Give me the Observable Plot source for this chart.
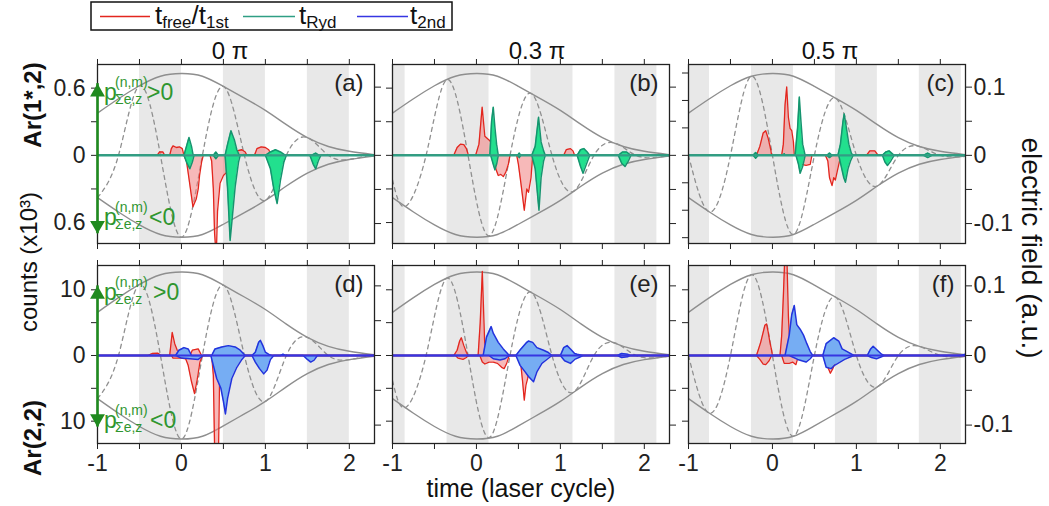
<!DOCTYPE html>
<html><head><meta charset="utf-8">
<script src="https://cdn.jsdelivr.net/npm/d3@7"></script>
<script src="https://cdn.jsdelivr.net/npm/@observablehq/plot@0.6"></script>
<style>
body{margin:0;background:#fff;font-family:"Liberation Sans",Arial,sans-serif;}
#wrap{position:relative;width:1049px;height:506px;overflow:hidden;background:#fff;}
.pl{position:absolute;}
#ov{position:absolute;left:0;top:0;pointer-events:none;}
</style></head><body><div id="wrap"></div>
<script>
// ---------------- data ----------------
const phaseTitles = ["0 \u03c0", "0.3 \u03c0", "0.5 \u03c0"];
const panelTags = ["(a)", "(b)", "(c)", "(d)", "(e)", "(f)"];
const xTicks = [-1, -0.5, 0, 0.5, 1, 1.5, 2];

// pulse envelope (electric field, a.u.)
const envT = [-1, -0.75, -0.5, -0.25, 0, 0.25, 0.5, 0.75, 1, 1.25, 1.5, 1.75, 2, 2.3];
const envE = [0.062, 0.083, 0.102, 0.116, 0.120, 0.116, 0.101, 0.084, 0.066, 0.045, 0.026, 0.013, 0.006, 0.001];

// electric field (dashed), read at extrema / zero crossings
const fieldA = [[-1,-0.062],[-0.75,0],[-0.5,0.102],[-0.25,0],[0,-0.120],[0.25,0],[0.5,0.101],[0.75,0],[1,-0.066],[1.25,0],[1.5,0.026],[1.75,0],[2,-0.006],[2.25,0],[2.3,0.0003]];
const fieldB = [[-1,-0.036],[-0.85,-0.075],[-0.6,0],[-0.35,0.111],[-0.1,0],[0.15,-0.118],[0.4,0],[0.65,0.091],[0.9,0],[1.15,-0.053],[1.4,0],[1.65,0.018],[1.9,0],[2.15,-0.003],[2.3,-0.0006]];
const fieldC = [[-1,0],[-0.75,-0.083],[-0.5,0],[-0.25,0.116],[0,0],[0.25,-0.116],[0.5,0],[0.75,0.084],[1,0],[1.25,-0.045],[1.5,0],[1.75,0.013],[2,0],[2.25,-0.002],[2.3,-0.001]];

// shaded half cycles
const bandsA = [[-0.5,0],[0.5,1],[1.5,2]];
const bandsB = [[-1.35,-0.85],[-0.35,0.15],[0.65,1.15],[1.65,2.15]];
const bandsC = [[-1.25,-0.75],[-0.25,0.25],[0.75,1.25],[1.75,2.25]];

// Ar(1*,2) counts (x10^3): t_free/t_1st (red) and t_Ryd (green)
const redUpA = [[-1,0],[-0.29,0],[-0.26,0.03],[-0.22,0.03],[-0.2,0],[-0.14,0],[-0.12,0.06],[-0.1,0.085],[-0.06,0.07],[-0.02,0.075],[0.01,0.06],[0.03,0],[0.62,0],[0.66,0.04],[0.72,0.05],[0.76,0.03],[0.78,0],[0.87,0],[0.9,0.06],[0.95,0.075],[1.0,0.07],[1.04,0.05],[1.07,0],[2.3,0]];
const redDnA = [[-1,0],[0.03,0],[0.06,-0.05],[0.096,-0.24],[0.137,-0.46],[0.176,-0.39],[0.2,-0.3],[0.216,-0.18],[0.24,-0.06],[0.26,0],[0.34,0],[0.36,-0.05],[0.38,-0.3],[0.395,-0.7],[0.415,-0.9],[0.43,-0.5],[0.46,-0.25],[0.5,-0.18],[0.54,-0.15],[0.57,-0.08],[0.6,0],[2.3,0]];
const grnUpA = [[-1,0],[0.03,0],[0.06,0.08],[0.09,0.16],[0.12,0.08],[0.14,0],[0.38,0],[0.41,0.03],[0.44,0],[0.52,0],[0.55,0.1],[0.59,0.22],[0.63,0.14],[0.66,0.05],[0.69,0],[1.0,0],[1.06,0.03],[1.12,0.05],[1.18,0.03],[1.24,0],[1.55,0],[1.6,0.02],[1.64,0],[2.3,0]];
const grnDnA = [[-1,0],[0.03,0],[0.06,-0.06],[0.1,-0.12],[0.13,-0.06],[0.15,0],[0.38,0],[0.41,-0.03],[0.44,0],[0.52,0],[0.55,-0.3],[0.58,-0.76],[0.61,-0.52],[0.64,-0.28],[0.68,-0.06],[0.7,0],[1.0,0],[1.06,-0.12],[1.1,-0.3],[1.14,-0.43],[1.18,-0.22],[1.22,-0.06],[1.25,0],[1.53,0],[1.57,-0.08],[1.6,-0.12],[1.63,-0.05],[1.66,0],[2.3,0]];

const redUpB = [[-1,0],[-0.27,0],[-0.23,0.07],[-0.19,0.1],[-0.15,0.095],[-0.12,0.06],[-0.095,0],[-0.01,0],[0.03,0.1],[0.068,0.43],[0.1,0.17],[0.13,0.15],[0.16,0.13],[0.19,0.1],[0.21,0],[1.04,0],[1.07,0.05],[1.12,0.06],[1.15,0.04],[1.17,0],[2.3,0]];
const redDnB = [[-1,0],[0.2,0],[0.23,-0.12],[0.26,-0.18],[0.29,-0.17],[0.32,-0.19],[0.35,-0.15],[0.38,-0.08],[0.4,0],[0.48,0],[0.5,-0.08],[0.53,-0.25],[0.57,-0.49],[0.6,-0.3],[0.62,-0.33],[0.65,-0.2],[0.67,0],[2.3,0]];
const grnUpB = [[-1,0],[0.16,0],[0.18,0.3],[0.2,0.43],[0.22,0.25],[0.24,0.1],[0.26,0],[0.49,0],[0.51,0.02],[0.53,0],[0.66,0],[0.7,0.08],[0.74,0.34],[0.77,0.12],[0.8,0.04],[0.82,0],[1.2,0],[1.24,0.05],[1.28,0.06],[1.32,0.03],[1.35,0],[1.69,0],[1.74,0.03],[1.79,0.03],[1.84,0],[2.3,0]];
const grnDnB = [[-1,0],[0.17,0],[0.2,-0.08],[0.22,-0.13],[0.24,-0.08],[0.26,0],[0.49,0],[0.51,-0.02],[0.53,0],[0.66,0],[0.7,-0.12],[0.745,-0.49],[0.77,-0.2],[0.8,-0.05],[0.82,0],[1.2,0],[1.24,-0.1],[1.27,-0.16],[1.31,-0.08],[1.35,0],[1.69,0],[1.73,-0.07],[1.77,-0.1],[1.81,-0.05],[1.84,0],[2.3,0]];

const redUpC = [[-1,0],[-0.19,0],[-0.15,0.08],[-0.11,0.2],[-0.08,0.22],[-0.05,0.15],[-0.02,0.05],[-0.01,0],[0.11,0],[0.13,0.1],[0.15,0.45],[0.17,0.61],[0.19,0.34],[0.21,0.24],[0.23,0.22],[0.25,0.12],[0.26,0],[1.12,0],[1.16,0.04],[1.22,0.04],[1.26,0],[2.3,0]];
const redDnC = [[-1,0],[0.32,0],[0.35,-0.08],[0.4,-0.09],[0.45,-0.08],[0.47,0],[0.63,0],[0.66,-0.05],[0.68,-0.2],[0.71,-0.27],[0.73,-0.2],[0.75,-0.22],[0.77,-0.15],[0.8,-0.05],[0.82,0],[2.3,0]];
const grnUpC = [[-1,0],[-0.23,0],[-0.2,0.025],[-0.17,0],[0.13,0],[0.14,0.015],[0.15,0],[0.27,0],[0.3,0.25],[0.32,0.52],[0.34,0.3],[0.36,0.1],[0.39,0],[0.65,0],[0.68,0.02],[0.71,0],[0.78,0],[0.81,0.1],[0.84,0.3],[0.855,0.37],[0.88,0.25],[0.91,0.1],[0.94,0.02],[0.96,0],[1.31,0],[1.35,0.03],[1.39,0.04],[1.45,0],[1.8,0],[1.85,0.02],[1.9,0],[2.3,0]];
const grnDnC = [[-1,0],[-0.23,0],[-0.2,-0.025],[-0.17,0],[0.28,0],[0.31,-0.08],[0.33,-0.16],[0.36,-0.1],[0.39,0],[0.65,0],[0.68,-0.02],[0.71,0],[0.79,0],[0.82,-0.1],[0.85,-0.2],[0.87,-0.24],[0.9,-0.12],[0.93,-0.05],[0.96,0],[1.31,0],[1.34,-0.06],[1.37,-0.09],[1.41,-0.05],[1.45,0],[1.8,0],[1.85,-0.02],[1.9,0],[2.3,0]];

// Ar(2,2) counts (x10^3): t_free/t_1st (red) and t_2nd (blue)
const redUpD = [[-1,0],[-0.4,0],[-0.35,0.3],[-0.28,0.35],[-0.24,0],[-0.14,0],[-0.11,3.5],[-0.08,1.8],[-0.05,0.8],[-0.03,0.3],[-0.01,0],[0.1,0],[0.13,0.8],[0.2,1.0],[0.24,0],[0.4,0],[0.44,0.8],[0.5,1.2],[0.55,1.0],[0.58,0],[2.3,0]];
const redDnD = [[-1,0],[-0.12,0],[-0.1,-0.4],[0.0,-0.4],[0.05,-0.5],[0.08,-1.5],[0.12,-4.0],[0.156,-5.8],[0.19,-3.5],[0.22,-1.0],[0.25,0],[0.36,0],[0.38,-3],[0.395,-14],[0.41,-16],[0.44,-16],[0.455,-3],[0.47,0],[2.3,0]];
const bluUpD = [[-1,0],[-0.07,0],[-0.03,0.8],[0.03,1.2],[0.08,1.0],[0.12,0],[0.36,0],[0.4,1.0],[0.48,1.3],[0.56,1.5],[0.64,1.3],[0.7,0.8],[0.76,0],[0.84,0],[0.88,0.5],[0.92,2.0],[0.94,2.3],[0.97,1.5],[1.0,0.5],[1.05,0.1],[1.08,0],[1.18,0],[1.21,0.2],[1.24,0],[2.3,0]];
const bluDnD = [[-1,0],[-0.07,0],[0.0,-0.4],[0.1,-0.5],[0.2,-0.6],[0.26,0],[0.35,0],[0.38,-1.5],[0.42,-3.5],[0.47,-5],[0.5,-7],[0.524,-8.9],[0.55,-6.5],[0.6,-3.5],[0.66,-1.8],[0.72,-0.6],[0.76,0],[0.84,0],[0.88,-1.0],[0.93,-2.0],[0.98,-2.8],[1.02,-2.2],[1.06,-0.6],[1.1,0],[1.45,0],[1.5,-0.6],[1.54,-1.0],[1.58,-0.7],[1.62,0],[2.3,0]];

const redUpE = [[-1,0],[-0.27,0],[-0.23,0.8],[-0.2,2.2],[-0.18,2.7],[-0.15,1.5],[-0.12,0.5],[-0.1,0],[0.02,0],[0.045,5],[0.07,12.8],[0.09,5],[0.1,1.2],[0.12,0.5],[0.15,0],[2.3,0]];
const redDnE = [[-1,0],[-0.25,0],[-0.22,-0.4],[-0.16,-0.6],[-0.12,-0.3],[-0.1,0],[0.04,0],[0.07,-1.0],[0.1,-1.3],[0.15,-1.0],[0.2,-1.0],[0.25,-1.2],[0.3,-1.8],[0.33,-2.0],[0.36,-1.2],[0.39,0],[0.5,0],[0.53,-1.5],[0.55,-4],[0.57,-6.8],[0.59,-4.5],[0.61,-3.5],[0.63,-2],[0.65,0],[2.3,0]];
const bluUpE = [[-1,0],[0.08,0],[0.12,2.8],[0.175,4.4],[0.2,3.4],[0.26,2.0],[0.32,1.0],[0.37,0.3],[0.39,0],[0.47,0],[0.53,1.0],[0.6,2.0],[0.62,2.2],[0.67,2.0],[0.72,1.2],[0.8,0.8],[0.85,0.5],[0.9,0],[1.0,0],[1.04,1.2],[1.08,1.5],[1.12,1.0],[1.17,0.3],[1.2,0.2],[1.27,0],[1.68,0],[1.73,0.3],[1.8,0.2],[1.83,0],[2.3,0]];
const bluDnE = [[-1,0],[0.15,0],[0.2,-0.5],[0.28,-0.7],[0.34,-0.5],[0.39,0],[0.47,0],[0.52,-1.5],[0.58,-2.5],[0.62,-3.2],[0.68,-4.0],[0.72,-2.5],[0.78,-1.2],[0.85,-0.5],[0.9,0],[1.0,0],[1.05,-0.8],[1.12,-1.2],[1.17,-0.6],[1.22,-0.3],[1.27,0],[1.68,0],[1.73,-0.3],[1.8,-0.2],[1.83,0],[2.3,0]];

const redUpF = [[-1,0],[-0.19,0],[-0.14,2.0],[-0.09,4.6],[-0.07,4.8],[-0.05,3.5],[-0.03,2.0],[-0.01,0.8],[0.0,0],[0.09,0],[0.11,3],[0.13,9],[0.15,16],[0.17,16],[0.19,6],[0.21,0.5],[0.22,0],[2.3,0]];
const redDnF = [[-1,0],[-0.19,0],[-0.15,-0.6],[-0.11,-1.3],[-0.08,-1.4],[-0.04,-0.8],[-0.01,0],[0.11,0],[0.14,-1.2],[0.2,-1.2],[0.24,-1.0],[0.28,-1.4],[0.31,0],[0.62,0],[0.65,-1.5],[0.69,-2.7],[0.72,-2.0],[0.75,-1.0],[0.77,0],[2.3,0]];
const bluUpF = [[-1,0],[0.15,0],[0.2,3.1],[0.23,6.2],[0.26,7.6],[0.29,4.7],[0.33,4.0],[0.37,3.1],[0.41,1.8],[0.45,0.6],[0.48,0],[0.6,0],[0.64,1.8],[0.73,2.7],[0.79,2.2],[0.83,1.0],[0.89,0.6],[0.97,0],[1.13,0],[1.17,1.0],[1.2,1.4],[1.25,0.8],[1.3,0.2],[1.33,0],[2.25,0],[2.3,0.2]];
const bluDnF = [[-1,0],[0.2,0],[0.3,-0.6],[0.4,-1.0],[0.45,-0.5],[0.48,0],[0.6,0],[0.64,-1.8],[0.7,-2.0],[0.74,-1.5],[0.78,-1.2],[0.86,-0.6],[0.97,0],[1.13,0],[1.18,-0.3],[1.24,-0.5],[1.3,-0.2],[1.33,0],[2.3,0]];

// axis ticks
const countTicksTop = [-0.6, -0.3, 0, 0.3, 0.6];
const countTicksTopC = [-0.735, -0.49, -0.245, 0, 0.245, 0.49, 0.735];
const countTicksBot = [-10, -5, 0, 5, 10];
const fieldTicks = [-0.1, -0.05, 0, 0.05, 0.1];
const arrowTips = [[0.64, -0.70], [10.6, -10.9]];

// ---------------- layout / style ----------------
const FONT = '"Liberation Sans", Arial, Helvetica, sans-serif';
const frameLeft = [97, 392, 688], frameW = 277;
const frameTop = [64, 265], frameH = [179, 178];
const M = {l: 62, r: 62, t: 16, b: 40};
const RED = "#e3261e", RED_FILL = "#f07f7f", GREEN_TXT = "#2f962f", ARROW = "#1f8a1f";
const rowCfg = [
  {domain: [-0.787, 0.811], k: 6.09, zero: "#2f9e84", sFill: "#22e08e", sStroke: "#16946f"},
  {domain: [-13.4, 13.7], k: 106, zero: "#3636e2", sFill: "#76adf3", sStroke: "#2233dd"}
];
const envRows = envT.map((t, i) => ({t, e: envE[i]}));
const panels = [
  {row:0, col:0, bands:bandsA, field:fieldA, rU:redUpA, rD:redDnA, sU:grnUpA, sD:grnDnA, lt:countTicksTop},
  {row:0, col:1, bands:bandsB, field:fieldB, rU:redUpB, rD:redDnB, sU:grnUpB, sD:grnDnB, lt:countTicksTop},
  {row:0, col:2, bands:bandsC, field:fieldC, rU:redUpC, rD:redDnC, sU:grnUpC, sD:grnDnC, lt:countTicksTopC},
  {row:1, col:0, bands:bandsA, field:fieldA, rU:redUpD, rD:redDnD, sU:bluUpD, sD:bluDnD, lt:countTicksBot},
  {row:1, col:1, bands:bandsB, field:fieldB, rU:redUpE, rD:redDnE, sU:bluUpE, sD:bluDnE, lt:countTicksBot},
  {row:1, col:2, bands:bandsC, field:fieldC, rU:redUpF, rD:redDnF, sU:bluUpF, sD:bluDnF, lt:countTicksBot}
];
const fmtNum = v => (v < 0 ? "-" : "") + String(Math.abs(+v.toFixed(3)));
const wrap = document.getElementById("wrap");

panels.forEach((p, idx) => {
  const rc = rowCfg[p.row];
  const [y0, y1] = rc.domain;
  const X = d => d[0], Y = d => d[1];
  const marks = [
    Plot.rect(p.bands, {x1: X, x2: Y, y1: y0, y2: y1, fill: "#e8e8e8", clip: true}),
    Plot.line(envRows, {x: "t", y: d => d.e * rc.k, curve: "natural", stroke: "#8e8e8e", strokeWidth: 1.4, clip: true}),
    Plot.line(envRows, {x: "t", y: d => -d.e * rc.k, curve: "natural", stroke: "#8e8e8e", strokeWidth: 1.4, clip: true}),
    Plot.line(p.field, {x: X, y: d => d[1] * rc.k, curve: "natural", stroke: "#909090", strokeWidth: 1.3, strokeDasharray: "4,4", clip: true}),
    Plot.areaY(p.rU, {x: X, y1: 0, y2: Y, fill: RED_FILL, fillOpacity: 0.55, clip: true}),
    Plot.areaY(p.rD, {x: X, y1: 0, y2: Y, fill: RED_FILL, fillOpacity: 0.55, clip: true}),
    Plot.line(p.rU, {x: X, y: Y, stroke: RED, strokeWidth: 1.3, clip: true}),
    Plot.line(p.rD, {x: X, y: Y, stroke: RED, strokeWidth: 1.3, clip: true}),
    Plot.areaY(p.sU, {x: X, y1: 0, y2: Y, fill: rc.sFill, clip: true}),
    Plot.areaY(p.sD, {x: X, y1: 0, y2: Y, fill: rc.sFill, clip: true}),
    Plot.line(p.sU, {x: X, y: Y, stroke: rc.sStroke, strokeWidth: 1.5, clip: true}),
    Plot.line(p.sD, {x: X, y: Y, stroke: rc.sStroke, strokeWidth: 1.5, clip: true}),
    Plot.ruleY([0], {stroke: rc.zero, strokeWidth: 2.2}),
    Plot.frame({stroke: "#222", strokeWidth: 1.3}),
    Plot.axisX({anchor: "bottom", ticks: xTicks, tickSize: 6, tickPadding: 5, label: null, fontSize: 23,
      tickFormat: d => (p.row === 1 && Number.isInteger(d)) ? fmtNum(d) : ""}),
    Plot.axisX({anchor: "top", ticks: xTicks, tickSize: 6, label: null, tickFormat: () => ""}),
    Plot.axisY({anchor: "left", ticks: p.lt, tickSize: 6, tickPadding: 6, label: null, fontSize: 23,
      tickFormat: d => (p.col === 0 && Math.abs(d) !== Math.abs(p.lt[1])) ? String(Math.abs(d)) : ""}),
    Plot.axisY({anchor: "right", ticks: fieldTicks.map(v => v * rc.k), tickSize: 6, tickPadding: 2, label: null, fontSize: 23,
      tickFormat: d => {
        const f = d / rc.k;
        return (p.col === 2 && Math.abs(Math.abs(f) - 0.05) > 1e-6) ? fmtNum(Math.round(f * 10) / 10) : "";
      }}),
    Plot.text([panelTags[idx]], {frameAnchor: "top-right", text: d => d, dx: -11, dy: 9, lineAnchor: "top",
      textAnchor: "end", fontSize: 24, fill: "#222"})
  ];
  if (p.col === 0) {
    const [tTop, tBot] = arrowTips[p.row];
    marks.push(Plot.ruleX([-1], {y1: tBot, y2: tTop, stroke: ARROW, strokeWidth: 2.6}));
    marks.push(Plot.dot([tTop], {x: -1, y: d => d, symbol: "triangle", r: 5.5, fill: ARROW, stroke: "none", dy: 8.5}));
    marks.push(Plot.dot([tBot], {x: -1, y: d => d, symbol: "triangle", r: 5.5, fill: ARROW, stroke: "none", rotate: 180, dy: -8.5}));
  }
  const chart = Plot.plot({
    width: frameW + M.l + M.r,
    height: frameH[p.row] + M.t + M.b,
    marginLeft: M.l, marginRight: M.r, marginTop: M.t, marginBottom: M.b,
    x: {domain: [-1, 2.3]},
    y: {domain: rc.domain},
    style: {background: "transparent", overflow: "visible", fontFamily: FONT, fontSize: "23px", color: "#222"},
    marks
  });
  chart.classList.add("pl");
  chart.style.left = (frameLeft[p.col] - M.l) + "px";
  chart.style.top = (frameTop[p.row] - M.t) + "px";
  wrap.appendChild(chart);
});

// ---------------- overlay text: legend, titles, labels ----------------
const NS = "http://www.w3.org/2000/svg";
const ov = document.createElementNS(NS, "svg");
ov.setAttribute("id", "ov");
ov.setAttribute("width", 1049);
ov.setAttribute("height", 506);
ov.setAttribute("font-family", FONT);
wrap.appendChild(ov);
function el(tag, attrs, parent = ov) {
  const e = document.createElementNS(NS, tag);
  for (const k in attrs) if (k !== "text") e.setAttribute(k, attrs[k]);
  if (attrs.text != null) e.textContent = attrs.text;
  parent.appendChild(e);
  return e;
}
function rich(parts, attrs) {
  const t = el("text", attrs);
  parts.forEach(([s, size, dy]) => el("tspan", {"font-size": size, dy: dy, text: s}, t));
  return t;
}
// legend
el("rect", {x: 91, y: 2, width: 361, height: 28, fill: "#fff", stroke: "#111", "stroke-width": 1.5});
el("line", {x1: 100, x2: 150, y1: 16.5, y2: 16.5, stroke: RED, "stroke-width": 1.6});
el("line", {x1: 243, x2: 295, y1: 16.5, y2: 16.5, stroke: rowCfg[0].zero, "stroke-width": 1.6});
el("line", {x1: 357, x2: 408, y1: 16.5, y2: 16.5, stroke: rowCfg[1].zero, "stroke-width": 1.6});
rich([["t", 26, 0], ["free", 17, 4], ["/t", 26, -4], ["1st", 17, 4]], {x: 155, y: 24, fill: "#111"});
rich([["t", 26, 0], ["Ryd", 17, 4]], {x: 299, y: 24, fill: "#111"});
rich([["t", 26, 0], ["2nd", 17, 4]], {x: 410, y: 24, fill: "#111"});
// column titles
[230, 537, 830].forEach((cx, i) => el("text", {x: cx, y: 59, "text-anchor": "middle", "font-size": 24, fill: "#111", text: phaseTitles[i]}));
// left labels
el("text", {transform: "translate(41,105) rotate(-90)", "text-anchor": "middle", "font-size": 24, "font-weight": "bold", fill: "#111", text: "Ar(1*,2)"});
el("text", {transform: "translate(37,262) rotate(-90)", "text-anchor": "middle", "font-size": 24, fill: "#111", text: "counts (x10\u00b3)"});
el("text", {transform: "translate(41,438) rotate(-90)", "text-anchor": "middle", "font-size": 24, "font-weight": "bold", fill: "#111", text: "Ar(2,2)"});
// right label
el("text", {transform: "translate(1022,248) rotate(90)", "text-anchor": "middle", "font-size": 28, fill: "#111", text: "electric field (a.u.)"});
// x title
el("text", {x: 521, y: 497, "text-anchor": "middle", "font-size": 25, fill: "#111", text: "time (laser cycle)"});
// momentum sign labels
function pLabel(x, y, sign, gap) {
  el("text", {x: x, y: y, "font-size": 23, fill: GREEN_TXT, text: "p"});
  el("text", {x: x + 11, y: y - 13, "font-size": 14, fill: GREEN_TXT, text: "(n,m)"});
  el("text", {x: x + 11, y: y + 4, "font-size": 14, fill: GREEN_TXT, text: "\u03a3e,z"});
  el("text", {x: x + gap, y: y, "font-size": 23, fill: GREEN_TXT, text: sign});
}
pLabel(104, 100, ">0", 43);
pLabel(104, 225, "<0", 45);
pLabel(104, 300, ">0", 49);
pLabel(104, 428, "<0", 46);
</script></body></html>
